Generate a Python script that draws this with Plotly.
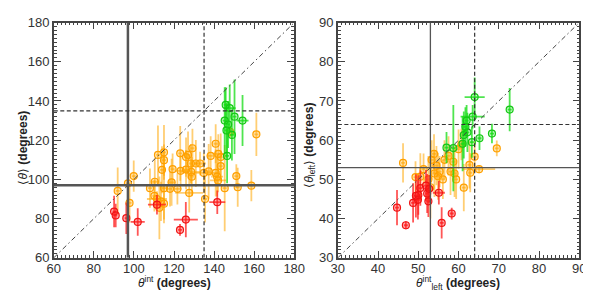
import plotly.graph_objects as go

# ---------------- Left panel data (theta_int vs <theta>) ----------------
L_red_x = [90.1, 90.9, 96.2, 101.9, 111.5, 123.0, 125.9, 141.6]
L_red_y = [83.6, 81.6, 80.2, 78.3, 87.1, 74.2, 79.5, 88.4]
L_red_xerr = [0.8, 0.8, 0.8, 3.5, 4.5, 1.0, 6.0, 4.0]
L_red_yerr = [8, 6, 8, 7, 5, 3, 9, 6]

L_green_x = [145.3, 146.2, 147.8, 147.0, 150.2, 148.9, 154.2, 145.8, 146.5]
L_green_y = [130.0, 125.0, 136.4, 128.0, 132.0, 122.7, 130.0, 138.0, 112.0]
L_green_xerr = [1, 1, 3, 1, 1, 1, 3, 1, 1]
L_green_yerr = [17, 14, 12, 12, 19, 13, 13, 9, 14]

L_orange_x = [91.9, 97.0, 97.8, 99.9, 108.0, 110.4, 110.2, 111.5, 112.7, 113.5,
              114.0, 112.0, 115.0, 115.0, 115.0, 115.0, 118.8, 119.3, 118.0, 121.7,
              123.1, 123.3, 126.0, 126.0, 127.6, 127.0, 128.4, 129.2, 128.6, 128.9,
              130.9, 133.0, 134.9, 137.3, 138.3, 140.8, 140.8, 141.5, 142.1, 143.3,
              143.3, 142.0, 145.3, 151.1, 151.8, 158.6, 161.1, 148.0, 135.5]
L_orange_y = [94.1, 98.0, 88.0, 101.7, 95.5, 98.8, 91.6, 90.0, 85.5, 88.8,
              104.9, 112.5, 113.8, 109.8, 95.5, 87.6, 98.5, 105.2, 95.2, 95.2,
              113.3, 104.4, 105.0, 111.4, 93.1, 112.5, 108.1, 115.9, 103.8, 101.4,
              108.1, 108.1, 103.3, 104.1, 112.0, 118.2, 103.3, 101.4, 113.0, 111.4,
              106.8, 99.5, 95.5, 101.7, 96.0, 96.8, 123.0, 124.3, 90.0]
L_orange_xerr = [1, 1, 1, 1, 1, 2, 1, 5, 1, 1,
                 1, 1, 1, 1, 1, 1, 2, 1, 1, 2,
                 1, 3, 2, 1, 7, 1, 1, 1, 5, 1,
                 1, 3, 5, 1, 2, 1, 1, 3, 3, 1,
                 1, 4, 1, 1, 1, 1, 1, 2, 1]
L_orange_yerr = [12, 4, 10, 8, 10, 12, 8, 4, 16, 10,
                 12, 15, 14, 8, 16, 10, 12, 8, 9, 8,
                 14, 8, 10, 10, 10, 12, 10, 10, 6, 10,
                 12, 6, 10, 14, 10, 10, 12, 10, 10, 12,
                 8, 6, 22, 6, 10, 8, 11, 3, 12]

# ---------------- Right panel data (theta_int_left vs <theta_left>) ----------------
R_red_x = [44.7, 46.9, 48.7, 49.4, 49.9, 50.5, 51.9, 52.2, 52.5, 52.7, 55.1, 55.8, 58.3, 50.0]
R_red_y = [42.8, 38.3, 44.0, 45.8, 44.8, 47.8, 48.4, 46.4, 44.4, 47.6, 46.6, 38.9, 41.3, 46.0]
R_red_xerr = [0.5, 0.5, 0.5, 0.5, 0.5, 0.5, 0.5, 0.5, 0.5, 0.5, 1.5, 0.5, 0.5, 0.5]
R_red_yerr = [4.5, 1.0, 5.0, 5.5, 5.0, 4.5, 4.0, 5.0, 4.0, 3.5, 3.0, 4.0, 1.5, 5.0]

R_green_x = [57.0, 58.7, 61.0, 61.3, 61.7, 62.2, 63.3, 63.5, 64.0, 65.2, 68.3, 72.7, 62.0]
R_green_y = [58.1, 58.0, 59.1, 61.3, 63.4, 62.0, 59.5, 66.0, 71.0, 60.5, 61.7, 67.8, 65.0]
R_green_xerr = [0.5, 0.5, 0.5, 0.5, 0.5, 0.5, 0.5, 3.0, 2.5, 0.5, 0.5, 0.5, 0.5]
R_green_yerr = [4, 11, 7, 6, 5, 5, 4, 3, 5, 3, 2.5, 5.5, 4]

R_orange_x = [46.2, 49.3, 51.3, 53.3, 53.9, 54.0, 54.5, 54.9, 55.3, 56.1,
              56.5, 58.0, 58.7, 59.0, 59.4, 60.0, 60.7, 61.3, 62.7, 62.9,
              64.0, 65.1, 69.5, 52.5, 53.0, 57.5, 50.5]
R_orange_y = [54.2, 50.6, 52.6, 55.0, 56.5, 51.5, 53.5, 50.8, 52.0, 50.0,
              55.0, 52.0, 54.5, 51.5, 50.0, 57.7, 58.9, 47.9, 53.7, 51.7,
              55.8, 52.6, 57.9, 50.0, 48.0, 56.0, 50.7]
R_orange_xerr = [0.5] * 21 + [4.0, 0.5, 0.5, 0.5, 0.5, 0.5]
R_orange_yerr = [5, 4, 4, 5, 5, 6, 5, 6, 4, 5,
                 5, 6, 4, 6, 5, 5, 4, 6, 6, 5,
                 4, 1, 2, 6, 8, 5, 6]

# reference line values
L_range = [60, 180]
L_solid = 97
L_dashed = 135
R_range = [30, 90]
R_solid = 53
R_dashed = 64

COLORS = {
    "red": ("rgba(255,30,30,0.75)", "rgba(255,30,30,0.35)", "rgb(240,20,20)"),
    "green": ("rgba(20,220,20,0.75)", "rgba(20,220,20,0.25)", "rgb(20,200,20)"),
    "orange": ("rgba(255,165,0,0.55)", "rgba(255,165,0,0.3)", "rgb(255,160,0)"),
}

fig = go.Figure()


def add_series(x, y, xe, ye, cname, xa, ya):
    bar, fill, edge = COLORS[cname]
    fig.add_trace(go.Scatter(
        x=x, y=y, mode="markers", xaxis=xa, yaxis=ya, showlegend=False,
        marker=dict(symbol="circle", size=7, color=fill, line=dict(color=edge, width=1.2)),
        error_x=dict(type="data", array=xe, color=bar, thickness=1.8, width=0),
        error_y=dict(type="data", array=ye, color=bar, thickness=1.8, width=0),
    ))


add_series(L_orange_x, L_orange_y, L_orange_xerr, L_orange_yerr, "orange", "x", "y")
add_series(L_green_x, L_green_y, L_green_xerr, L_green_yerr, "green", "x", "y")
add_series(L_red_x, L_red_y, L_red_xerr, L_red_yerr, "red", "x", "y")
add_series(R_orange_x, R_orange_y, R_orange_xerr, R_orange_yerr, "orange", "x2", "y2")
add_series(R_green_x, R_green_y, R_green_xerr, R_green_yerr, "green", "x2", "y2")
add_series(R_red_x, R_red_y, R_red_xerr, R_red_yerr, "red", "x2", "y2")

# reference lines
DASH = "4px,2.5px"
DASHDOT = "5px,3px,1.5px,3px"
for xr, yr, rng, solid, dashed, sw in [("x", "y", L_range, L_solid, L_dashed, 2.5),
                                       ("x2", "y2", R_range, R_solid, R_dashed, 1.3)]:
    fig.add_shape(type="line", xref=xr, yref=yr, x0=rng[0], x1=rng[1], y0=rng[0], y1=rng[1],
                  line=dict(color="#444", width=1, dash=DASHDOT))
    fig.add_shape(type="line", xref=xr, yref=yr, x0=solid, x1=solid, y0=rng[0], y1=rng[1],
                  line=dict(color="#555", width=sw))
    fig.add_shape(type="line", xref=xr, yref=yr, x0=rng[0], x1=rng[1], y0=solid, y1=solid,
                  line=dict(color="#555", width=sw))
    fig.add_shape(type="line", xref=xr, yref=yr, x0=dashed, x1=dashed, y0=rng[0], y1=rng[1],
                  line=dict(color="#333", width=1.2, dash=DASH))
    fig.add_shape(type="line", xref=xr, yref=yr, x0=rng[0], x1=rng[1], y0=dashed, y1=dashed,
                  line=dict(color="#333", width=1.2, dash=DASH))

W, H = 591, 291
ydom = [(291 - 256) / H, (291 - 8) / H]
FONT = "Liberation Sans, Arial, sans-serif"
tickfont = dict(family=FONT, size=13, color="#333")
titlefont = dict(family=FONT, size=12, color="#222")


def axis(dom, rng, dtick, minor_dtick, anchor, standoff):
    return dict(
        domain=dom, range=rng, dtick=dtick, tick0=rng[0], showgrid=False, zeroline=False,
        showline=True, linecolor="#444", linewidth=1.5, mirror="ticks",
        ticks="inside", ticklen=7, tickwidth=1, tickcolor="#444",
        minor=dict(ticks="inside", ticklen=3, dtick=minor_dtick, tickcolor="#444", showgrid=False),
        tickfont=tickfont, ticklabelstandoff=standoff, anchor=anchor,
    )


fig.update_layout(
    width=W, height=H, margin=dict(l=0, r=0, t=0, b=0),
    paper_bgcolor="white", plot_bgcolor="white", showlegend=False,
    xaxis=axis([40 / W, 288 / W], L_range, 20, 2, "y", -2),
    yaxis=axis(ydom, L_range, 20, 2, "x", 0),
    xaxis2=axis([333 / W, 582 / W], R_range, 10, 1, "y2", -2),
    yaxis2=axis(ydom, R_range, 10, 1, "x2", 0),
)

titles = [
    ("<i>θ</i><sup>int</sup> <b>(degrees)</b>", 164, 282, 0),
    ("<i>θ</i><sup>int</sup><sub>left</sub> <b>(degrees)</b>", 457, 283, 0),
    ("⟨<i>θ</i>⟩ <b>(degrees)</b>", 8, 140, -90),
    ("⟨<i>θ</i><sub>left</sub>⟩ <b>(degrees)</b>", 304, 137, -90),
]
for text, px, py, ang in titles:
    fig.add_annotation(text=text, xref="paper", yref="paper", x=px / W, y=1 - py / H,
                       xanchor="center", yanchor="middle", showarrow=False,
                       textangle=ang, font=titlefont)

fig.write_html("out.html")
